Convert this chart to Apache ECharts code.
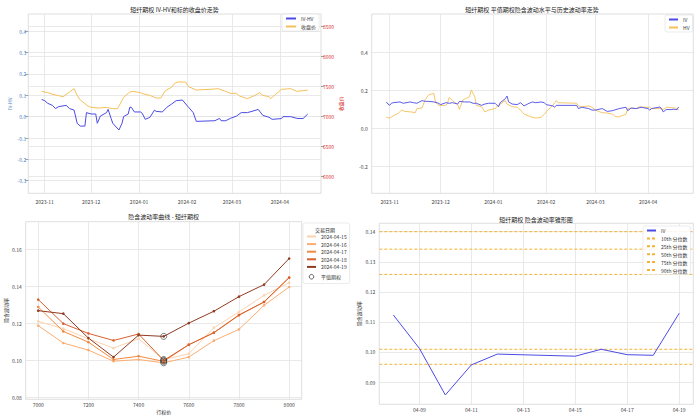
<!DOCTYPE html>
<html><head><meta charset="utf-8">
<script src="https://cdn.jsdelivr.net/npm/echarts@6/dist/echarts.min.js"></script>
<style>html,body{margin:0;padding:0;background:#fff}#c{width:700px;height:419px}</style>
</head><body><div id="c"></div>
<script>
// ---------- Panel 1: IV-HV and close price ----------
const ivhvDates = ['2023-10-30','2023-11-01','2023-11-03','2023-11-06','2023-11-08','2023-11-10','2023-11-15','2023-11-17','2023-11-20','2023-11-22','2023-11-24','2023-11-27','2023-11-28','2023-12-01','2023-12-04','2023-12-05','2023-12-07','2023-12-11','2023-12-12','2023-12-14','2023-12-15','2023-12-19','2023-12-21','2023-12-22','2023-12-25','2023-12-26','2023-12-27','2023-12-29','2024-01-02','2024-01-03','2024-01-05','2024-01-08','2024-01-11','2024-01-12','2024-01-16','2024-01-19','2024-01-22','2024-01-25','2024-01-29','2024-02-02','2024-02-05','2024-02-07','2024-02-19','2024-02-22','2024-02-23','2024-02-26','2024-02-29','2024-03-04','2024-03-07','2024-03-11','2024-03-14','2024-03-18','2024-03-21','2024-03-25','2024-03-27','2024-04-02','2024-04-03','2024-04-08','2024-04-12','2024-04-16','2024-04-19'];
const ivhvValues = [0.081,0.075,0.0625,0.053,0.038,0.047,0.053,0.038,0.031,-0.031,-0.044,-0.044,0.019,0.0125,0.0125,-0.031,0.003,0.019,0.034,-0.01,-0.031,-0.0625,-0.031,0.0,0.0125,0.044,0.044,0.022,0.022,0.016,-0.0125,-0.003,0.031,0.025,0.022,0.044,0.059,0.075,0.078,0.044,0.019,-0.022,-0.019,-0.008,-0.019,-0.019,-0.008,0.003,0.019,0.019,0.025,0.034,0.006,-0.003,-0.0125,-0.009,0.0,0.0,-0.008,-0.009,0.0125];
const closeDates = ['2023-10-30','2023-11-03','2023-11-07','2023-11-13','2023-11-17','2023-11-20','2023-11-22','2023-11-24','2023-11-29','2023-12-01','2023-12-06','2023-12-11','2023-12-13','2023-12-15','2023-12-18','2023-12-20','2023-12-22','2023-12-26','2023-12-28','2024-01-02','2024-01-04','2024-01-08','2024-01-12','2024-01-15','2024-01-18','2024-01-22','2024-01-24','2024-01-26','2024-01-31','2024-02-02','2024-02-07','2024-02-19','2024-02-21','2024-02-26','2024-02-29','2024-03-04','2024-03-06','2024-03-11','2024-03-15','2024-03-19','2024-03-21','2024-03-25','2024-03-26','2024-03-29','2024-04-02','2024-04-08','2024-04-10','2024-04-12','2024-04-16','2024-04-19'];
const closeValues = [7411,7389,7356,7322,7400,7456,7344,7267,7167,7144,7133,7144,7133,7122,7122,7211,7311,7400,7411,7389,7367,7344,7300,7300,7422,7478,7544,7567,7567,7489,7433,7450,7456,7411,7378,7378,7333,7289,7333,7389,7344,7322,7289,7356,7444,7456,7433,7411,7422,7433];
const monthTickLabels = ['2023-11','2023-12','2024-01','2024-02','2024-03','2024-04'];
const ivhvTicks = [-0.3,-0.2,-0.1,0.0,0.1,0.2,0.3,0.4];
const closeTicks = [6000,6500,7000,7500,8000,8500];

// ---------- Panel 2: IV and HV ----------
const ivDates = ['2023-10-30','2023-10-31','2023-11-01','2023-11-02','2023-11-03','2023-11-07','2023-11-09','2023-11-13','2023-11-15','2023-11-17','2023-11-20','2023-11-22','2023-11-24','2023-11-27','2023-11-29','2023-12-01','2023-12-04','2023-12-06','2023-12-08','2023-12-11','2023-12-12','2023-12-15','2023-12-18','2023-12-20','2023-12-22','2023-12-25','2023-12-27','2023-12-29','2024-01-02','2024-01-04','2024-01-05','2024-01-08','2024-01-09','2024-01-10','2024-01-12','2024-01-15','2024-01-17','2024-01-19','2024-01-22','2024-01-24','2024-01-26','2024-01-29','2024-01-31','2024-02-01','2024-02-05','2024-02-06','2024-02-07','2024-02-19','2024-02-20','2024-02-22','2024-02-26','2024-02-28','2024-03-01','2024-03-05','2024-03-08','2024-03-11','2024-03-15','2024-03-19','2024-03-20','2024-03-22','2024-03-25','2024-03-28','2024-04-01','2024-04-02','2024-04-03','2024-04-08','2024-04-09','2024-04-10','2024-04-11','2024-04-12','2024-04-15','2024-04-16','2024-04-17','2024-04-18','2024-04-19'];
const ivValues = [0.139,0.128,0.121,0.132,0.135,0.139,0.132,0.139,0.135,0.132,0.146,0.142,0.142,0.139,0.135,0.125,0.135,0.132,0.135,0.128,0.142,0.139,0.139,0.132,0.132,0.121,0.128,0.132,0.132,0.114,0.135,0.156,0.170,0.139,0.128,0.125,0.135,0.118,0.132,0.139,0.135,0.139,0.135,0.125,0.118,0.111,0.121,0.121,0.104,0.111,0.104,0.096,0.096,0.104,0.089,0.093,0.104,0.111,0.093,0.107,0.104,0.111,0.104,0.096,0.104,0.1123,0.1012,0.0857,0.0957,0.0993,0.0986,0.1009,0.0991,0.0989,0.1129];
const hvDates = ['2023-10-30','2023-11-01','2023-11-03','2023-11-06','2023-11-08','2023-11-10','2023-11-14','2023-11-16','2023-11-17','2023-11-20','2023-11-22','2023-11-24','2023-11-27','2023-11-28','2023-11-30','2023-12-04','2023-12-05','2023-12-06','2023-12-08','2023-12-11','2023-12-12','2023-12-14','2023-12-18','2023-12-19','2023-12-21','2023-12-22','2023-12-25','2023-12-27','2023-12-29','2024-01-02','2024-01-04','2024-01-08','2024-01-09','2024-01-12','2024-01-15','2024-01-17','2024-01-19','2024-01-23','2024-01-26','2024-01-29','2024-01-31','2024-02-02','2024-02-05','2024-02-07','2024-02-08','2024-02-19','2024-02-20','2024-02-22','2024-02-26','2024-02-28','2024-03-01','2024-03-05','2024-03-07','2024-03-11','2024-03-13','2024-03-15','2024-03-19','2024-03-20','2024-03-22','2024-03-25','2024-03-27','2024-03-29','2024-04-02','2024-04-03','2024-04-08','2024-04-10','2024-04-12','2024-04-17','2024-04-19'];
const hvValues = [0.058,0.054,0.065,0.079,0.096,0.089,0.086,0.082,0.104,0.107,0.153,0.177,0.184,0.135,0.121,0.121,0.132,0.163,0.146,0.125,0.100,0.149,0.167,0.202,0.167,0.121,0.114,0.086,0.096,0.104,0.121,0.146,0.128,0.114,0.111,0.096,0.075,0.061,0.054,0.058,0.075,0.096,0.121,0.146,0.135,0.132,0.118,0.114,0.118,0.111,0.096,0.082,0.082,0.075,0.061,0.061,0.075,0.104,0.107,0.104,0.114,0.111,0.111,0.104,0.104,0.100,0.111,0.107,0.096];
const volTicks = [-0.2,0.0,0.2,0.4];

// ---------- Panel 3: smile ----------
const strikes = [7000,7100,7200,7300,7400,7500,7600,7700,7800,7900,8000];
const smileDates = ['2024-04-15','2024-04-16','2024-04-17','2024-04-18','2024-04-19'];
const smile0415 = [0.1211,0.1172,0.1117,0.1067,0.1117,0.1005,0.1036,0.1177,0.1262,0.1352,0.1420];
const smile0416 = [0.1188,0.1094,0.1056,0.0996,0.1005,0.0987,0.1018,0.1107,0.1168,0.1298,0.1397];
const smile0417 = [0.1289,0.1157,0.1099,0.1005,0.1023,0.0995,0.1085,0.1150,0.1244,0.1316,0.1448];
const smile0418 = [0.1329,0.1199,0.1146,0.1108,0.1143,0.1000,0.1085,0.1150,0.1246,0.1316,0.1448];
const smile0419 = [0.1269,0.1253,0.1121,0.1018,0.1137,0.1130,0.1202,0.1266,0.1345,0.1410,0.1551];
const atmStrike = 7500;
const strikeTicks = [7000,7200,7400,7600,7800,8000];
const smileTicks = [0.08,0.10,0.12,0.14,0.16];

// ---------- Panel 4: cone ----------
const coneDates = ['2024-04-08','2024-04-09','2024-04-10','2024-04-11','2024-04-12','2024-04-15','2024-04-16','2024-04-17','2024-04-18','2024-04-19'];
const coneIV = [0.1123,0.1012,0.0857,0.0957,0.0993,0.0986,0.1009,0.0991,0.0989,0.1129];
const quantileNames = ['10th 分位数','25th 分位数','50th 分位数','75th 分位数','90th 分位数'];
const quantileValues = [0.0959,0.1009,0.1258,0.1342,0.1400];
const coneTickLabels = ['04-09','04-11','04-13','04-15','04-17','04-19'];
const coneTicks = [0.09,0.10,0.11,0.12,0.13,0.14];

// ---------- build ----------
const F = 'Noto Sans CJK SC';
const P = s => echarts.time.parse(s).getTime();
const zipT = (xs, ys) => xs.map((x, i) => [P(x), ys[i]]);
const zip = (xs, ys) => xs.map((x, i) => [x, ys[i]]);
const gridColor = '#e3e3e3';
const txt = '#444';
const BLUE = '#4b4be6', ORANGE = '#f5c05a';
const monthTs = monthTickLabels.map(m => P(m + '-01'));
const coneTs = coneTickLabels.map(d => P('2024-' + d));
const tMin1 = P('2023-10-21 10:00'), tMax1 = P('2024-04-27 14:00');
const tMin4 = P('2024-04-07 11:00'), tMax4 = P('2024-04-19 13:00');
const smileColors = ['#fcd2ad','#f9ad72','#f28a40','#d9602f','#8f3b22'];
const smileSets = [smile0415, smile0416, smile0417, smile0418, smile0419];
const atmIdx = strikes.indexOf(atmStrike);
const quantColor = '#f2b233';

const lbl = (extra) => Object.assign({fontSize: 5, color: txt, fontFamily: F}, extra);
const grid = (l, t, w, h) => ({left: l, top: t, width: w, height: h, show: true, borderColor: '#d6d6d6', borderWidth: 0.8, backgroundColor: '#fff', containLabel: false, outerBoundsMode: 'none'});
const split = {show: true, lineStyle: {color: gridColor, width: 0.8}};
const tt = {fontSize: 6, fontWeight: 'normal', color: '#222', fontFamily: F};
const num = v => String(v);

const option = {
  animation: false,
  textStyle: {fontFamily: F},
  title: [
    {text: '短纤期权 IV-HV和标的收盘价走势', left: 174.5, top: 6, padding: 0, textAlign: 'center', textStyle: tt},
    {text: '短纤期权 平值期权隐含波动水平与历史波动率走势', left: 532, top: 6, padding: 0, textAlign: 'center', textStyle: tt},
    {text: '隐含波动率曲线 - 短纤期权', left: 163.7, top: 213, padding: 0, textAlign: 'center', textStyle: tt},
    {text: '短纤期权 隐含波动率锥形图', left: 536, top: 216, padding: 0, textAlign: 'center', textStyle: tt},
    {text: '交易日期', left: 325, top: 226.5, padding: 0, textAlign: 'center', z: 10, textStyle: Object.assign({}, tt, {fontSize: 5})}
  ],
  grid: [grid(28.3, 14, 292.7, 179.3), grid(371.7, 14, 321.6, 179.3), grid(25.7, 221.7, 276, 177.6), grid(379.3, 223.3, 314, 181)],
  xAxis: [
    {type: 'value', gridIndex: 0, min: tMin1, max: tMax1, axisLine: {show: false}, axisTick: {show: false, customValues: monthTs},
     axisLabel: lbl({customValues: monthTs, margin: 6, formatter: v => monthTickLabels[monthTs.indexOf(v)]}), splitLine: split},
    {type: 'value', gridIndex: 1, min: tMin1, max: tMax1, axisLine: {show: false}, axisTick: {show: false, customValues: monthTs},
     axisLabel: lbl({customValues: monthTs, margin: 6, formatter: v => monthTickLabels[monthTs.indexOf(v)]}), splitLine: split},
    {type: 'value', gridIndex: 2, min: 6950, max: 8050, axisLine: {show: false}, axisTick: {show: false, customValues: strikeTicks},
     axisLabel: lbl({customValues: strikeTicks, margin: 3, formatter: num}), splitLine: split,
     name: '行权价', nameLocation: 'middle', nameGap: 10, nameTextStyle: {fontSize: 5, color: '#222', fontFamily: F}},
    {type: 'value', gridIndex: 3, min: tMin4, max: tMax4, axisLine: {show: false}, axisTick: {show: false, customValues: coneTs},
     axisLabel: lbl({customValues: coneTs, margin: 3, formatter: v => coneTickLabels[coneTs.indexOf(v)]}), splitLine: split}
  ],
  yAxis: [
    {type: 'value', gridIndex: 0, min: -0.359, max: 0.481, axisLine: {show: false},
     axisTick: {show: true, customValues: ivhvTicks, length: 3, lineStyle: {color: '#666', width: 0.6}},
     axisLabel: lbl({customValues: ivhvTicks, margin: 2, color: '#4a80c0', formatter: v => v.toFixed(1)}), splitLine: split,
     name: 'IV-HV', nameLocation: 'middle', nameGap: 16, nameTextStyle: {fontSize: 5, color: '#4a80c0', fontFamily: F}},
    {type: 'value', gridIndex: 0, position: 'right', min: 5712, max: 8700, axisLine: {show: false},
     axisTick: {show: true, customValues: closeTicks, length: 3, lineStyle: {color: '#666', width: 0.6}},
     axisLabel: lbl({customValues: closeTicks, margin: 2, color: '#d83030', formatter: num}), splitLine: split,
     name: '收盘价', nameLocation: 'middle', nameGap: 17, nameTextStyle: {fontSize: 5, color: '#d83030', fontFamily: F}},
    {type: 'value', gridIndex: 1, min: -0.342, max: 0.602, axisLine: {show: false}, axisTick: {show: false, customValues: volTicks},
     axisLabel: lbl({customValues: volTicks, margin: 4, formatter: v => v.toFixed(1)}), splitLine: split},
    {type: 'value', gridIndex: 2, min: 0.079, max: 0.175, axisLine: {show: false}, axisTick: {show: false, customValues: smileTicks},
     axisLabel: lbl({customValues: smileTicks, margin: 4, formatter: v => v.toFixed(2)}), splitLine: split,
     name: '隐含波动率', nameLocation: 'middle', nameGap: 18, nameTextStyle: {fontSize: 5, color: '#222', fontFamily: F}},
    {type: 'value', gridIndex: 3, min: 0.0826, max: 0.1428, axisLine: {show: false}, axisTick: {show: false, customValues: coneTicks},
     axisLabel: lbl({customValues: coneTicks, margin: 4, formatter: v => v.toFixed(2)}), splitLine: split,
     name: '隐含波动率', nameLocation: 'middle', nameGap: 18, nameTextStyle: {fontSize: 5, color: '#222', fontFamily: F}}
  ],
  legend: [
    {data: ['IV-HV', '收盘价'], left: 282, top: 14, orient: 'vertical', itemWidth: 10, itemHeight: 4, itemGap: 3, padding: [2, 3, 2, 3],
     borderColor: '#ddd', borderWidth: 0.6, borderRadius: 2, backgroundColor: 'rgba(255,255,255,0.85)', itemStyle: {opacity: 0}, textStyle: lbl({color: '#333'})},
    {data: ['IV', 'HV'], left: 665, top: 15, orient: 'vertical', itemWidth: 9, itemHeight: 4, itemGap: 3, padding: [2, 3, 2, 3],
     borderColor: '#ddd', borderWidth: 0.6, borderRadius: 2, backgroundColor: 'rgba(255,255,255,0.85)', itemStyle: {opacity: 0}, textStyle: lbl({color: '#333'})},
    {data: smileDates.concat([{name: '平值期权', icon: 'circle', itemStyle: {opacity: 1, color: 'none', borderColor: '#333', borderWidth: 0.8}}]),
     left: 303, top: 223, orient: 'vertical', itemWidth: 9, itemHeight: 4.5, itemGap: 2.6, padding: [11, 3, 2, 3],
     borderColor: '#ddd', borderWidth: 0.6, borderRadius: 2, backgroundColor: '#fff', itemStyle: {opacity: 0}, textStyle: lbl({color: '#333'})},
    {data: ['IV'].concat(quantileNames), left: 643, top: 226, orient: 'vertical', itemWidth: 9, itemHeight: 4.5, itemGap: 2.9, padding: [2, 3, 2, 3],
     borderColor: '#ddd', borderWidth: 0.6, borderRadius: 2, backgroundColor: 'rgba(255,255,255,0.85)', itemStyle: {opacity: 0}, textStyle: lbl({color: '#333'})}
  ],
  series: []
};

option.series.push({name: 'IV-HV', type: 'line', xAxisIndex: 0, yAxisIndex: 0, data: zipT(ivhvDates, ivhvValues), symbol: 'none', lineStyle: {color: BLUE, width: 1}, itemStyle: {color: BLUE}});
option.series.push({name: '收盘价', type: 'line', xAxisIndex: 0, yAxisIndex: 1, data: zipT(closeDates, closeValues), symbol: 'none', lineStyle: {color: ORANGE, width: 1}, itemStyle: {color: ORANGE}});
option.series.push({name: 'IV', type: 'line', xAxisIndex: 1, yAxisIndex: 2, data: zipT(ivDates, ivValues), symbol: 'none', lineStyle: {color: BLUE, width: 0.9}, itemStyle: {color: BLUE}, z: 3});
option.series.push({name: 'HV', type: 'line', xAxisIndex: 1, yAxisIndex: 2, data: zipT(hvDates, hvValues), symbol: 'none', lineStyle: {color: ORANGE, width: 0.9}, itemStyle: {color: ORANGE}, z: 2});
smileSets.forEach((s, i) => {
  option.series.push({name: smileDates[i], type: 'line', xAxisIndex: 2, yAxisIndex: 3, data: zip(strikes, s), symbol: 'circle', symbolSize: 2.6,
    lineStyle: {color: smileColors[i], width: 1}, itemStyle: {color: smileColors[i]}});
});
option.series.push({name: '平值期权', type: 'scatter', xAxisIndex: 2, yAxisIndex: 3, data: smileSets.map(s => [atmStrike, s[atmIdx]]),
  symbol: 'circle', symbolSize: 6, itemStyle: {color: 'none', borderColor: '#333', borderWidth: 0.8}, z: 5});
option.series.push({name: 'IV', type: 'line', xAxisIndex: 3, yAxisIndex: 4, data: zipT(coneDates, coneIV), symbol: 'none', lineStyle: {color: BLUE, width: 1}, itemStyle: {color: BLUE}, z: 3});
quantileNames.forEach((n, i) => {
  option.series.push({name: n, type: 'line', xAxisIndex: 3, yAxisIndex: 4, data: [[tMin4, quantileValues[i]], [tMax4, quantileValues[i]]], symbol: 'none',
    lineStyle: {color: quantColor, width: 1, type: [3, 2]}, itemStyle: {color: quantColor}, z: 2});
});

const chart = echarts.init(document.getElementById('c'), null, {renderer: 'svg'});
chart.setOption(option);
</script>
</body></html>
